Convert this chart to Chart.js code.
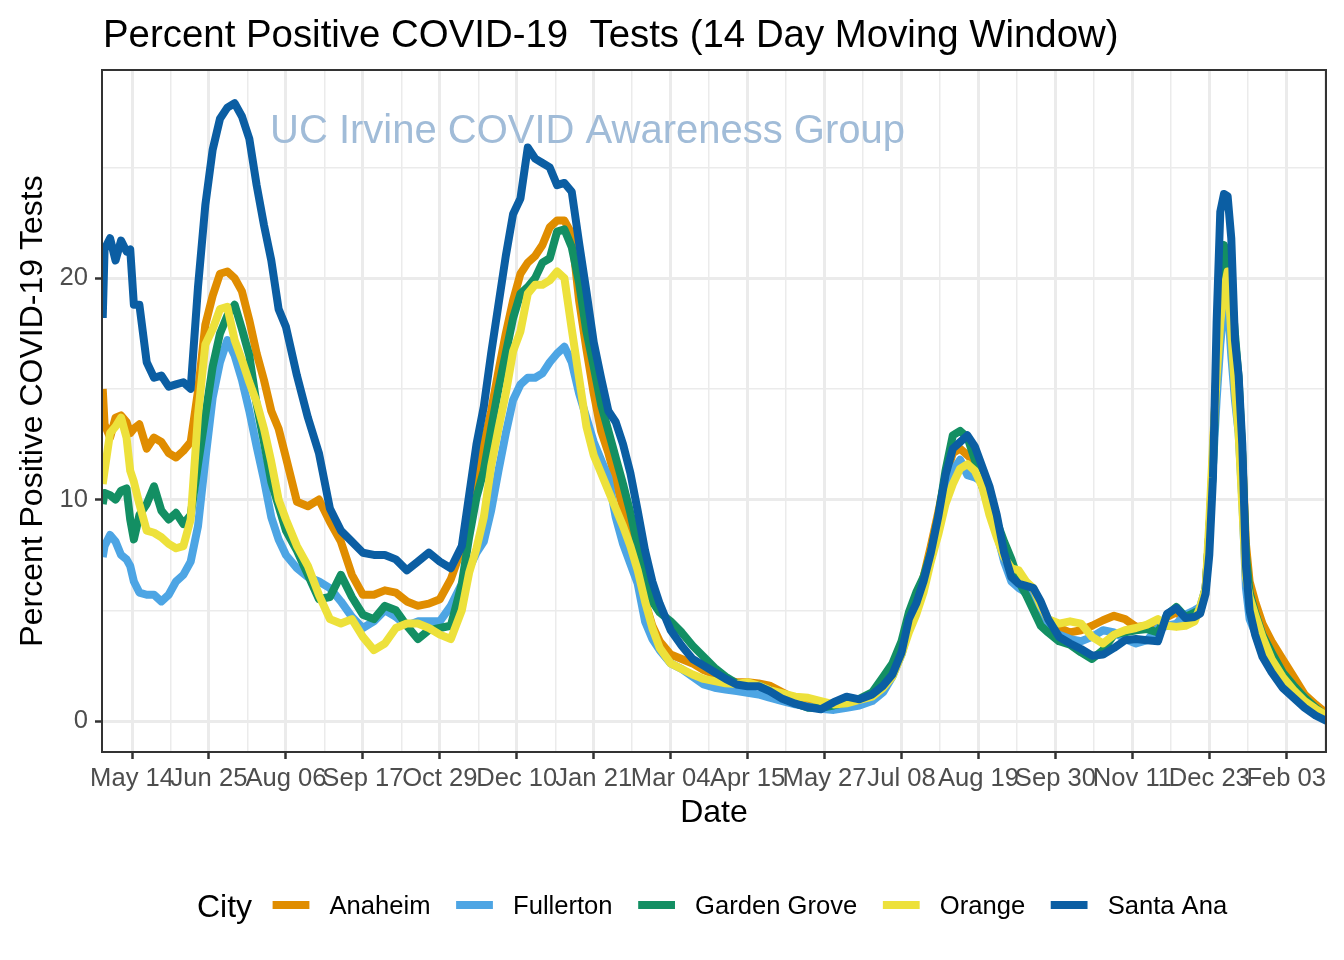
<!DOCTYPE html>
<html>
<head>
<meta charset="utf-8">
<script src="https://cdn.jsdelivr.net/npm/chart.js@4.4.0/dist/chart.umd.min.js"></script>
<style>
html,body{margin:0;padding:0;background:#ffffff;}
canvas{display:block;}
</style>
</head>
<body>
<canvas id="c" width="1344" height="960" style="width:1344px;height:960px"></canvas>
<script>
// Day offsets relative to 2020-05-14
const days = [
  -16, -15, -12, -9, -6, -3, -1, 1, 4, 8,
  12, 16, 20, 24, 28, 32, 36, 40, 44, 48,
  52, 56, 60, 64, 68, 72, 76, 80, 84, 90,
  96, 102, 108, 114, 120, 126, 132, 138, 144, 150,
  156, 162, 168, 174, 180, 184, 188, 192, 196, 200,
  204, 208, 212, 216, 220, 224, 228, 232, 236, 240,
  244, 248, 252, 256, 260, 264, 268, 272, 276, 280,
  284, 288, 294, 300, 306, 312, 318, 324, 330, 336,
  342, 348, 355, 362, 369, 376, 383, 390, 397, 404,
  410, 415, 420, 424, 428, 432, 436, 440, 444, 448,
  452, 456, 460, 464, 468, 472, 476, 480, 484, 488,
  492, 496, 500, 506, 512, 518, 524, 530, 536, 542,
  548, 554, 560, 565, 570, 575, 580, 583, 586, 588,
  590, 592, 594, 596, 598, 600, 602, 604, 606, 608,
  610, 613, 617, 622, 628, 634, 640, 646, 652
];

const anaheim = [
  15.0, 13.4, 12.8, 13.7, 13.8, 13.5, 13.0, 13.2, 13.4, 12.3,
  12.8, 12.6, 12.1, 11.9, 12.2, 12.6, 14.9, 17.9, 19.2, 20.2,
  20.3, 20.0, 19.4, 18.1, 16.6, 15.4, 14.0, 13.2, 11.9, 9.9,
  9.7, 10.0, 9.0, 8.1, 6.6, 5.7, 5.7, 5.9, 5.8, 5.4,
  5.2, 5.3, 5.5, 6.4, 7.8, 9.3, 11.0, 12.5, 14.0, 15.8,
  17.5, 19.0, 20.2, 20.7, 21.0, 21.5, 22.3, 22.6, 22.6, 22.0,
  19.0, 16.8, 14.8, 13.1, 12.1, 10.9, 9.6, 8.4, 6.7, 5.4,
  4.3, 3.6, 3.0, 2.8, 2.6, 2.3, 2.1, 1.85, 1.75, 1.75,
  1.7, 1.6, 1.3, 1.0, 0.85, 0.75, 0.7, 0.68, 0.8, 1.1,
  1.6, 2.2, 3.2, 4.3, 5.3, 6.5, 7.9, 9.4, 11.0, 12.1,
  12.3, 12.0, 11.7, 11.2, 10.3, 8.9, 7.8, 6.8, 6.3, 6.0,
  5.4, 4.8, 4.3, 4.2, 4.0, 4.1, 4.3, 4.55, 4.75, 4.6,
  4.25, 4.3, 4.2, 4.7, 4.9, 4.6, 4.8, 4.9, 6.0, 8.5,
  12.0, 16.0, 19.5, 21.0, 20.5, 19.2, 16.5, 15.1, 12.0, 8.0,
  6.3, 5.4, 4.4, 3.6, 2.8, 2.0, 1.2, 0.75, 0.35
];

const fullerton = [
  7.4, 7.9, 8.4, 8.1, 7.5, 7.3, 7.0, 6.3, 5.8, 5.7,
  5.7, 5.4, 5.7, 6.3, 6.6, 7.2, 8.8, 11.8, 14.6, 16.2,
  17.2, 16.5, 15.4, 14.0, 12.4, 10.9, 9.2, 8.2, 7.5, 6.9,
  6.5, 6.3, 6.0, 5.4, 4.7, 4.2, 4.5, 5.0, 4.7, 4.3,
  4.5, 4.5, 4.5, 5.2, 6.2, 6.9, 7.6, 8.1, 9.5, 11.3,
  13.0, 14.5, 15.2, 15.5, 15.5, 15.7, 16.2, 16.6, 16.9, 16.2,
  14.8, 13.7, 12.6, 11.8, 11.0, 9.2, 8.0, 7.1, 6.2, 4.5,
  3.7, 3.2, 2.6, 2.35, 2.0, 1.65, 1.5, 1.42, 1.35, 1.27,
  1.2, 1.05, 0.9, 0.75, 0.65, 0.55, 0.5, 0.6, 0.7, 0.9,
  1.3, 2.0, 3.0, 4.2, 5.2, 6.1, 7.3, 8.6, 10.2, 11.3,
  11.8, 11.1, 11.0, 10.8, 9.9, 8.5, 7.2, 6.3, 6.0, 5.8,
  5.3, 4.8, 4.2, 3.9, 3.7, 3.6, 3.8, 4.1, 4.0, 3.7,
  3.5, 3.65, 4.2, 4.3, 4.4, 4.8, 5.0, 5.15, 6.0, 8.5,
  11.5, 14.5, 17.0, 18.8, 19.0, 16.5, 14.5, 13.0, 10.0, 6.0,
  4.6, 4.0, 3.0, 2.3, 1.6, 1.2, 0.7, 0.35, 0.05
];

const gardenGrove = [
  9.8, 10.3, 10.2, 10.0, 10.4, 10.5, 9.1, 8.2, 9.3, 9.8,
  10.6, 9.5, 9.1, 9.4, 8.9, 9.3, 11.6, 13.8, 16.0, 17.5,
  18.3, 18.8, 17.7, 16.5, 14.3, 12.6, 10.8, 9.7, 8.6, 7.7,
  6.6, 5.5, 5.6, 6.6, 5.6, 4.8, 4.6, 5.2, 5.0, 4.3,
  3.7, 4.1, 4.2, 4.3, 6.2, 8.3, 10.1, 11.3, 13.2, 15.0,
  16.6, 18.2, 19.3, 19.6, 20.0, 20.7, 20.9, 22.1, 22.2, 21.4,
  19.8, 17.6, 16.0, 14.3, 13.1, 11.9, 10.7, 9.4, 7.9, 6.4,
  5.4, 4.9, 4.5, 4.0, 3.4, 2.9, 2.4, 2.0, 1.7, 1.65,
  1.6, 1.4, 1.05, 0.8, 0.6, 0.6, 0.7, 0.85, 1.0, 1.3,
  2.0, 2.6, 3.6, 4.9, 5.8, 6.5, 7.6, 9.2, 11.3, 12.9,
  13.1, 12.8, 11.8, 10.6, 9.8, 9.0, 8.1, 7.3, 6.3, 5.7,
  5.0, 4.3, 4.0, 3.6, 3.45, 3.1, 2.8, 3.2, 3.9, 4.0,
  4.1, 4.15, 4.0, 4.8, 5.15, 4.7, 4.9, 5.0, 6.0, 8.5,
  11.5, 16.0, 19.5, 21.5, 20.8, 19.5, 17.5, 15.5, 12.0, 7.5,
  5.8, 4.9, 3.9, 3.1, 2.2, 1.6, 1.05, 0.6, 0.2
];

const orangeCity = [
  10.7, 11.3, 13.0, 13.3, 13.7, 12.8, 11.3, 10.8, 9.8, 8.6,
  8.5, 8.3, 8.0, 7.8, 7.9, 9.1, 13.8, 17.0, 17.7, 18.6,
  18.7, 17.2, 16.3, 15.3, 14.4, 13.2, 11.7, 10.0, 9.1, 7.9,
  7.0, 5.7, 4.6, 4.4, 4.6, 3.8, 3.2, 3.5, 4.2, 4.4,
  4.4, 4.2, 3.9, 3.7, 5.0, 6.7, 7.8, 9.2, 11.5, 13.2,
  14.8, 16.7, 17.6, 19.3, 19.7, 19.7, 19.9, 20.3, 20.0, 17.7,
  15.5, 13.3, 12.0, 11.2, 10.4, 9.6, 8.8, 7.9, 6.8, 5.4,
  4.2, 3.3, 2.6, 2.35, 2.1, 1.9, 1.8, 1.7, 1.67, 1.75,
  1.6, 1.4, 1.25, 1.1, 1.05, 0.9, 0.75, 0.8, 0.95, 1.1,
  1.5, 2.0, 3.0, 4.0, 4.8, 5.8, 7.2, 8.4, 9.8, 10.7,
  11.4, 11.6, 11.3, 10.6, 9.3, 8.3, 7.4, 6.9, 6.8, 6.3,
  6.0, 5.2, 4.6, 4.4, 4.5, 4.4, 3.8, 3.5, 3.9, 4.1,
  4.2, 4.35, 4.6, 4.3, 4.25, 4.3, 4.5, 5.15, 6.0, 9.0,
  12.5, 15.5, 18.0, 19.5, 20.3, 17.5, 15.0, 13.0, 9.7, 6.5,
  5.6, 4.8, 3.8, 2.8, 2.0, 1.4, 0.9, 0.55, 0.25
];

const santaAna = [
  18.2, 21.3, 21.8, 20.8, 21.7, 21.2, 21.3, 18.8, 18.8, 16.2,
  15.5, 15.6, 15.1, 15.2, 15.3, 15.0, 19.6, 23.3, 25.8, 27.2,
  27.7, 27.9, 27.3, 26.3, 24.2, 22.4, 20.8, 18.6, 17.8, 15.6,
  13.7, 12.1, 9.6, 8.6, 8.1, 7.6, 7.5, 7.5, 7.3, 6.8,
  7.2, 7.6, 7.2, 6.9, 7.9, 10.2, 12.5, 14.2, 16.6, 18.8,
  21.0, 22.9, 23.6, 25.9, 25.4, 25.2, 25.0, 24.2, 24.3, 23.9,
  21.6, 19.4, 17.1, 15.5, 14.0, 13.5, 12.5, 11.2, 9.5, 7.7,
  6.3, 5.3, 4.1, 3.4, 2.8, 2.5, 2.2, 1.9, 1.65, 1.57,
  1.57, 1.35, 1.0, 0.78, 0.62, 0.53, 0.85, 1.1, 0.98, 1.2,
  1.6, 2.1, 3.1, 4.6, 5.3, 6.3, 7.6, 9.2, 11.1, 12.3,
  12.6, 12.9, 12.4, 11.5, 10.6, 9.3, 7.6, 6.5, 6.2, 6.1,
  6.0, 5.4, 4.6, 3.8, 3.5, 3.25, 2.95, 3.0, 3.3, 3.65,
  3.7, 3.65, 3.6, 4.85, 5.1, 4.65, 4.7, 4.85, 5.75, 7.5,
  11.0, 18.0, 23.0, 23.8, 23.7, 21.8, 17.2, 15.6, 12.5, 7.0,
  5.0, 3.9, 2.9, 2.2, 1.5, 1.05, 0.6, 0.25, 0.0
];

const cityNames = ['Anaheim', 'Fullerton', 'Garden Grove', 'Orange', 'Santa Ana'];
const cityColors = ['#E08D00', '#4DA5E4', '#138F63', '#EDE13B', '#0B5EA3'];

const xTickDays = [0, 42, 84, 126, 168, 210, 252, 294, 336, 378, 420, 462, 504, 546, 588, 630];
const xTickLabels = ['May 14', 'Jun 25', 'Aug 06', 'Sep 17', 'Oct 29', 'Dec 10', 'Jan 21', 'Mar 04',
                     'Apr 15', 'May 27', 'Jul 08', 'Aug 19', 'Sep 30', 'Nov 11', 'Dec 23', 'Feb 03'];
const yMajorTicks = [0, 10, 20];
const yMinorTicks = [5, 15, 25];

const titleText = 'Percent Positive COVID-19  Tests (14 Day Moving Window)';
const yTitle = 'Percent Positive COVID-19 Tests';
const xTitle = 'Date';
const legendTitle = 'City';
const watermark = 'UC Irvine COVID Awareness Group';

const FONT = '"Liberation Sans", Arial, Helvetica, sans-serif';
const X_MIN = -16.4, X_MAX = 651.7;
const Y_MIN = -1.4, Y_MAX = 29.4;
const LINE_W = 8;

// minor x gridlines halfway between labelled ticks (plus one past the last)
const xMinorDays = [];
for (let i = 0; i < xTickDays.length; i++) {
  const next = i + 1 < xTickDays.length ? xTickDays[i + 1] : xTickDays[i] + (xTickDays[1] - xTickDays[0]);
  const mid = (xTickDays[i] + next) / 2;
  if (mid <= X_MAX) xMinorDays.push(mid);
}
const xAllTicks = xTickDays.concat(xMinorDays).sort((a, b) => a - b);
const yAllTicks = yMajorTicks.concat(yMinorTicks).sort((a, b) => a - b);

const isMajorX = v => xTickDays.indexOf(v) !== -1;
const isMajorY = v => yMajorTicks.indexOf(v) !== -1;

const seriesList = [anaheim, fullerton, gardenGrove, orangeCity, santaAna];
const datasets = seriesList.map((vals, i) => ({
  label: cityNames[i],
  data: days.map((d, j) => ({ x: d, y: vals[j] })),
  borderColor: cityColors[i],
  backgroundColor: cityColors[i],
  borderWidth: LINE_W,
  borderCapStyle: 'butt',
  borderJoinStyle: 'round',
  pointRadius: 0,
  tension: 0,
  fill: false,
  clip: 0,
  order: seriesList.length - 1 - i
}));

const decor = {
  id: 'decor',
  beforeDatasetsDraw(chart) {
    const ctx = chart.ctx;
    ctx.save();
    ctx.font = '40px ' + FONT;
    ctx.fillStyle = '#A1BCD8';
    ctx.textAlign = 'left';
    ctx.textBaseline = 'alphabetic';
    ctx.fillText(watermark, 270, 143);
    ctx.restore();
  },
  afterDatasetsDraw(chart) {
    const ctx = chart.ctx;
    const a = chart.chartArea;
    ctx.save();
    ctx.strokeStyle = '#333333';
    ctx.lineWidth = 2;
    ctx.strokeRect(a.left, a.top, a.right - a.left, a.bottom - a.top);
    ctx.restore();
  },
  afterDraw(chart) {
    const ctx = chart.ctx;
    const a = chart.chartArea;
    ctx.save();
    ctx.fillStyle = '#000000';
    ctx.textBaseline = 'alphabetic';
    // Title
    ctx.font = '38.4px ' + FONT;
    ctx.textAlign = 'left';
    ctx.fillText(titleText, a.left + 1, 47);
    // X title
    ctx.font = '32px ' + FONT;
    ctx.textAlign = 'center';
    ctx.fillText(xTitle, (a.left + a.right) / 2, 822);
    // Y title
    ctx.save();
    ctx.translate(42, (a.top + a.bottom) / 2);
    ctx.rotate(-Math.PI / 2);
    ctx.textAlign = 'center';
    ctx.fillText(yTitle, 0, 0);
    ctx.restore();
    // Legend
    const ly = 905;
    ctx.textAlign = 'left';
    ctx.font = '32px ' + FONT;
    ctx.fillText(legendTitle, 197, ly + 11.5);
    let kx = 268;
    ctx.font = '25.6px ' + FONT;
    for (let i = 0; i < cityNames.length; i++) {
      ctx.strokeStyle = cityColors[i];
      ctx.lineWidth = LINE_W;
      ctx.lineCap = 'butt';
      ctx.beginPath();
      ctx.moveTo(kx + 4.6, ly);
      ctx.lineTo(kx + 41.4, ly);
      ctx.stroke();
      const tx = kx + 46 + 15.5;
      ctx.fillStyle = '#000000';
      ctx.fillText(cityNames[i], tx, ly + 9);
      kx = tx + ctx.measureText(cityNames[i]).width + 21;
    }
    ctx.restore();
  }
};

new Chart(document.getElementById('c'), {
  type: 'line',
  data: { datasets: datasets },
  options: {
    responsive: false,
    animation: false,
    devicePixelRatio: 1,
    layout: { padding: { left: 0, top: 70, right: 18, bottom: 108 } },
    plugins: { legend: { display: false }, tooltip: { enabled: false }, title: { display: false } },
    scales: {
      x: {
        type: 'linear',
        min: X_MIN,
        max: X_MAX,
        afterBuildTicks: axis => { axis.ticks = xAllTicks.map(v => ({ value: v })); },
        afterFit: s => { s.height = 100; },
        ticks: {
          autoSkip: false,
          maxRotation: 0,
          minRotation: 0,
          padding: 5,
          color: '#4D4D4D',
          font: { family: FONT, size: 25.6 },
          callback: v => { const k = xTickDays.indexOf(v); return k === -1 ? '' : xTickLabels[k]; }
        },
        grid: {
          color: '#EBEBEB',
          lineWidth: c => (c.tick && isMajorX(c.tick.value)) ? 3 : 1.5,
          tickLength: 7,
          tickColor: c => (c.tick && isMajorX(c.tick.value)) ? '#333333' : 'rgba(0,0,0,0)',
          tickWidth: 2.5
        },
        border: { display: false }
      },
      y: {
        type: 'linear',
        min: Y_MIN,
        max: Y_MAX,
        afterBuildTicks: axis => { axis.ticks = yAllTicks.map(v => ({ value: v })); },
        afterFit: s => { s.width = 102; },
        ticks: {
          padding: 7,
          color: '#4D4D4D',
          font: { family: FONT, size: 25.6 },
          callback: v => isMajorY(v) ? String(v) : ''
        },
        grid: {
          color: '#EBEBEB',
          lineWidth: c => (c.tick && isMajorY(c.tick.value)) ? 3 : 1.5,
          tickLength: 7,
          tickColor: c => (c.tick && isMajorY(c.tick.value)) ? '#333333' : 'rgba(0,0,0,0)',
          tickWidth: 2.5
        },
        border: { display: false }
      }
    }
  },
  plugins: [decor]
});
</script>
</body>
</html>
